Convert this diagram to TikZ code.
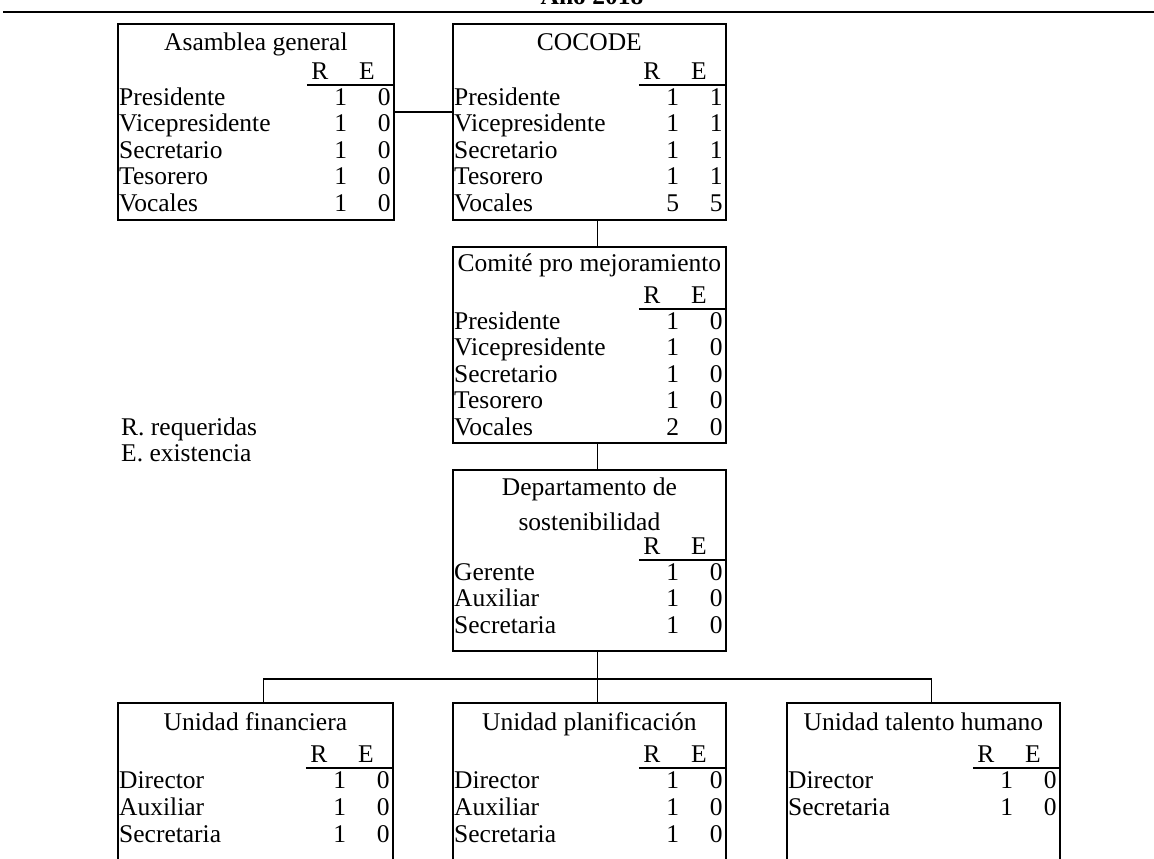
\documentclass[tikz,border=0pt]{standalone}
\usepackage{fontspec}
\setmainfont{Liberation Serif}
\usetikzlibrary{calc}

\begin{document}
\begin{tikzpicture}[
  x=1pt, y=-1pt,
  every node/.style={font=\fontsize{25.5}{26.5}\selectfont, inner sep=0pt},
  unitbox/.style={rectangle, draw, line width=1.8pt, anchor=north west, minimum height=#1},
  tablerule/.style={line width=1.7pt},
  link/.style={line width=1.5pt},
]
\useasboundingbox (0,0) rectangle (1154,859);
\clip (0,0) rectangle (1154,859);

% Heading (cut off at the top)
\node[font=\bfseries\fontsize{25.5}{26.5}\selectfont, anchor=base] (year) at (592,5) {Año 2018};
\draw[line width=2pt] (3,12) -- (1154,12);

% Row 1: assembly and COCODE
\node[unitbox=196, minimum width=276] (asam) at (117,23) {};
\node[unitbox=196, minimum width=273] (cocode) at (452,23) {};

% Row 2: committee
\node[unitbox=196, minimum width=273] (comite) at (452,246) {};

% Row 3: department
\node[unitbox=181, minimum width=273] (depto) at (452,469) {};

% Row 4: units (open at the bottom)
\node[unitbox=200, minimum width=275] (fin) at (117,702) {};
\node[unitbox=200, minimum width=273] (plan) at (452,702) {};
\node[unitbox=200, minimum width=273] (talento) at (786,702) {};

% Titles
\node[anchor=base] (asam-t) at ($(asam.north)+(0,28)$) {Asamblea general};
\node[anchor=base] (cocode-t) at ($(cocode.north)+(0,28)$) {COCODE};
\node[anchor=base] (comite-t) at ($(comite.north)+(0,25)$) {Comité pro mejoramiento};
\node[anchor=base] (depto-t1) at ($(depto.north)+(0,26)$) {Departamento de};
\node[anchor=base] (depto-t2) at ($(depto.north)+(0,61)$) {sostenibilidad};
\node[anchor=base] (fin-t) at ($(fin.north)+(0,28)$) {Unidad financiera};
\node[anchor=base] (plan-t) at ($(plan.north)+(0,28)$) {Unidad planificación};
\node[anchor=base] (talento-t) at ($(talento.north)+(0,28)$) {Unidad talento humano};

% Tables: header R E, rule, rows
\foreach \unit/\h/\gap/\rows in {
  asam/56/26.5/{Presidente/1/0,Vicepresidente/1/0,Secretario/1/0,Tesorero/1/0,Vocales/1/0},
  cocode/56/26.5/{Presidente/1/1,Vicepresidente/1/1,Secretario/1/1,Tesorero/1/1,Vocales/5/5},
  comite/57/26.5/{Presidente/1/0,Vicepresidente/1/0,Secretario/1/0,Tesorero/1/0,Vocales/2/0},
  depto/85/26.5/{Gerente/1/0,Auxiliar/1/0,Secretaria/1/0},
  fin/60/27/{Director/1/0,Auxiliar/1/0,Secretaria/1/0},
  plan/60/27/{Director/1/0,Auxiliar/1/0,Secretaria/1/0},
  talento/60/27/{Director/1/0,Secretaria/1/0}}{
  \node[anchor=base] (\unit-hr) at ($(\unit.north east)+(-75,\h)$) {R};
  \node[anchor=base] (\unit-he) at ($(\unit.north east)+(-28,\h)$) {E};
  \draw[tablerule] ($(\unit.north east)+(-88,\h+6)$) -- ($(\unit.north east)+(0,\h+6)$);
  \foreach \lab/\rq/\ex [count=\i] in \rows {
    \node[anchor=base west] (\unit-l\i) at ($(\unit.north west)+(2,\h+26+\gap*\i-\gap)$) {\lab};
    \node[anchor=base] (\unit-r\i) at ($(\unit.north east)+(-54,\h+26+\gap*\i-\gap)$) {\rq};
    \node[anchor=base east] (\unit-e\i) at ($(\unit.north east)+(-4,\h+26+\gap*\i-\gap)$) {\ex};
  }
}

% Legend
\node[anchor=base west] (legend-r) at (121,435) {R. requeridas};
\node[anchor=base west] (legend-e) at (121,461) {E. existencia};

% Connectors
\draw[link] ($(asam.north east)+(0,89)$) -- ($(cocode.north west)+(0,89)$);
\draw[link] ($(cocode.south)+(8,0)$) -- ($(comite.north)+(8,0)$);
\draw[link] ($(comite.south)+(8,0)$) -- ($(depto.north)+(8,0)$);
\coordinate (bus) at ($(depto.south)+(8,27)$);
\draw[link] ($(depto.south)+(8,0)$) -- (bus);
\draw[link] (bus) -- ($(plan.north)+(8,0)$);
\draw[link] ($(fin.north)+(8,0)$) |- (bus) -| ($(talento.north)+(8,0)$);

\end{tikzpicture}
\end{document}
